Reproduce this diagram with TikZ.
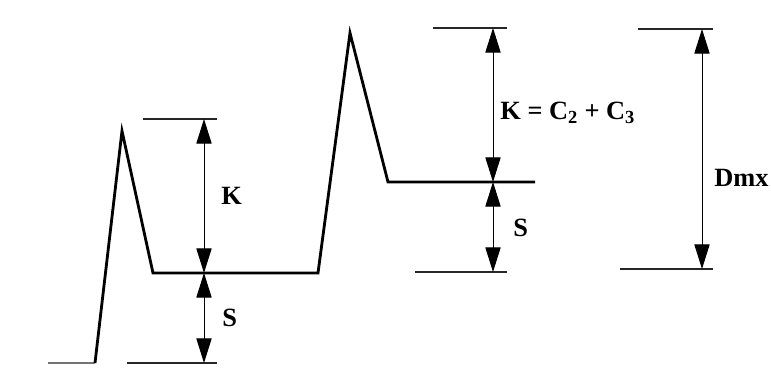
\documentclass[tikz,border=0pt]{standalone}
\usepackage{fontspec}
\setmainfont{Liberation Serif}
\usetikzlibrary{arrows.meta}

\begin{document}
\begin{tikzpicture}[
    x=0.03cm, y=-0.03cm,
    curve/.style={line width=2.4pt, line join=miter},
    base/.style={line width=2.4pt, draw=black!55},
    tick/.style={line width=1pt, draw=black!85},
    dim/.style={{Triangle[length=21pt,width=13pt]}-{Triangle[length=21pt,width=13pt]}, line width=0.8pt},
    lbl/.style={font=\fontsize{22.5}{25}\selectfont\bfseries, inner sep=1pt, anchor=west},
]

\useasboundingbox[fill=white] (0,0) rectangle (771,376);

% Pressure curve
\coordinate (b0) at (48,363);
\coordinate (b1) at (95,363);
\coordinate (p1) at (122,131);
\coordinate (f1a) at (153,273);
\coordinate (f1b) at (318,273);
\coordinate (p2) at (350,33);
\coordinate (f2a) at (388,182);
\coordinate (f2b) at (535,182);

\draw[base] (b0) -- (b1);
\draw[curve] (b1) -- (p1) -- (f1a) -- (f1b) -- (p2) -- (f2a) -- (f2b);

% First step
\coordinate (k1top) at (204,119);
\coordinate (k1mid) at (204,273);
\coordinate (k1bot) at (204,363);
\draw[tick] (143,119) -- (217,119);
\draw[tick] (127,363) -- (217,363);
\draw[dim] (k1top) -- (k1mid);
\draw[dim] (k1mid) -- (k1bot);
\node[lbl] (k1) at (220,196) {K};
\node[lbl] (s1) at (221,318) {S};

% Second step
\coordinate (k2top) at (493,28);
\coordinate (k2mid) at (493,182);
\coordinate (k2bot) at (493,272);
\draw[tick] (433,28) -- (507,28);
\draw[tick] (415,272) -- (507,272);
\draw[dim] (k2top) -- (k2mid);
\draw[dim] (k2mid) -- (k2bot);
\node[lbl] (k2) at (499,113) {K = C\textsubscript{2} + C\textsubscript{3}};
\node[lbl] (s2) at (512,228) {S};

% Maximum
\coordinate (dtop) at (702,29);
\coordinate (dbot) at (702,269);
\draw[tick] (638,29) -- (713,29);
\draw[tick] (620,269) -- (713,269);
\draw[dim] (dtop) -- (dbot);
\node[lbl] (dmx) at (713,178) {Dmx};

\end{tikzpicture}
\end{document}
